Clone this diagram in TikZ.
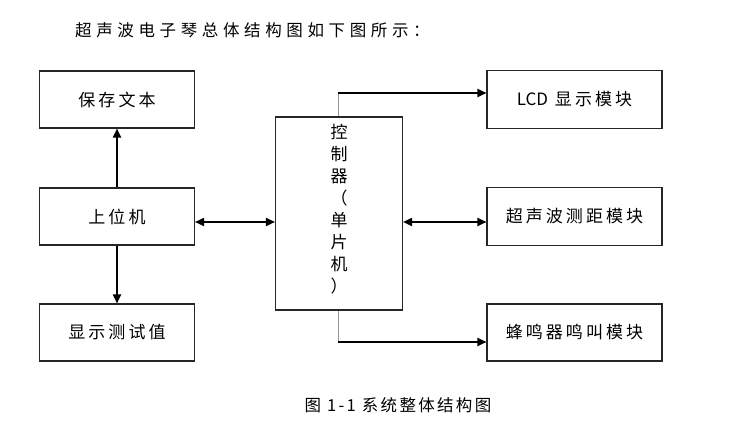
\documentclass[tikz,border=0pt]{standalone}
\usepackage{fontspec}
\setmainfont{Noto Sans CJK SC}
\usetikzlibrary{arrows.meta, positioning, calc}
\definecolor{linegray}{RGB}{150,150,150}

\tikzset{
  blockbox/.style={draw=black!85, line width=1.1pt, rectangle, inner sep=0pt,
    font=\fontsize{17}{20}\selectfont\addfontfeature{LetterSpace=18}},
  linkarrow/.style={line width=1.8pt, -{Triangle[length=9pt,width=8pt]}},
  bothlink/.style={line width=1.8pt, {Triangle[length=9pt,width=8pt]}-{Triangle[length=9pt,width=8pt]}},
  thinlink/.style={linegray, line width=0.8pt}
}

\begin{document}
\begin{tikzpicture}[x=1pt, y=-1pt]
  \useasboundingbox (0,0) rectangle (750,444);

  % title line and caption
  \node[anchor=west, inner sep=0pt, font=\fontsize{16.5}{18}\selectfont\addfontfeature{LetterSpace=28}] (title) at (75,30) {超声波电子琴总体结构图如下图所示：};
  \node[inner sep=0pt, font=\fontsize{16.5}{18}\selectfont\addfontfeature{LetterSpace=14}] (caption) at (398,405) {图 1-1 系统整体结构图};

  % left column
  \node[blockbox, minimum width=155pt, minimum height=57pt] (save) at (117,99.5) {保存文本};
  \node[blockbox, minimum width=155pt, minimum height=57pt] (host) at (117,216.5) {上位机};
  \node[blockbox, minimum width=155pt, minimum height=57pt] (show) at (117,332.5) {显示测试值};

  % controller
  \node[blockbox, minimum width=127pt, minimum height=193pt] (ctrl) at (339,213.5) {};
  \node[anchor=north, align=center, font=\fontsize{17}{22}\selectfont] (ctrltext) at (339,121) {控\\制\\器\\（\\单\\片\\机\\）};

  % right column
  \node[blockbox, minimum width=175pt, minimum height=58pt] (lcd) at (574.5,99.5) {{\addfontfeature{LetterSpace=0}LCD} 显示模块};
  \node[blockbox, minimum width=175pt, minimum height=58pt] (sonic) at (574.5,216.5) {超声波测距模块};
  \node[blockbox, minimum width=175pt, minimum height=57pt] (buzz) at (574.5,332.5) {蜂鸣器鸣叫模块};

  \coordinate (topbend) at (338,93);
  \coordinate (lowbend) at (338,342);
  \coordinate (midlink) at (339,222);

  % connectors
  \draw[linkarrow] (host.north) -- (save.south);
  \draw[linkarrow] (host.south) -- (show.north);
  \draw[bothlink] (host.east |- midlink) -- (ctrl.west |- midlink);
  \draw[bothlink] (ctrl.east |- midlink) -- (sonic.west |- midlink);
  \draw[thinlink] (ctrl.north -| topbend) -- (topbend);
  \draw[linkarrow] (topbend) -- (topbend -| lcd.west);
  \draw[thinlink] (ctrl.south -| lowbend) -- (lowbend);
  \draw[linkarrow] (lowbend) -- (lowbend -| buzz.west);
\end{tikzpicture}
\end{document}
